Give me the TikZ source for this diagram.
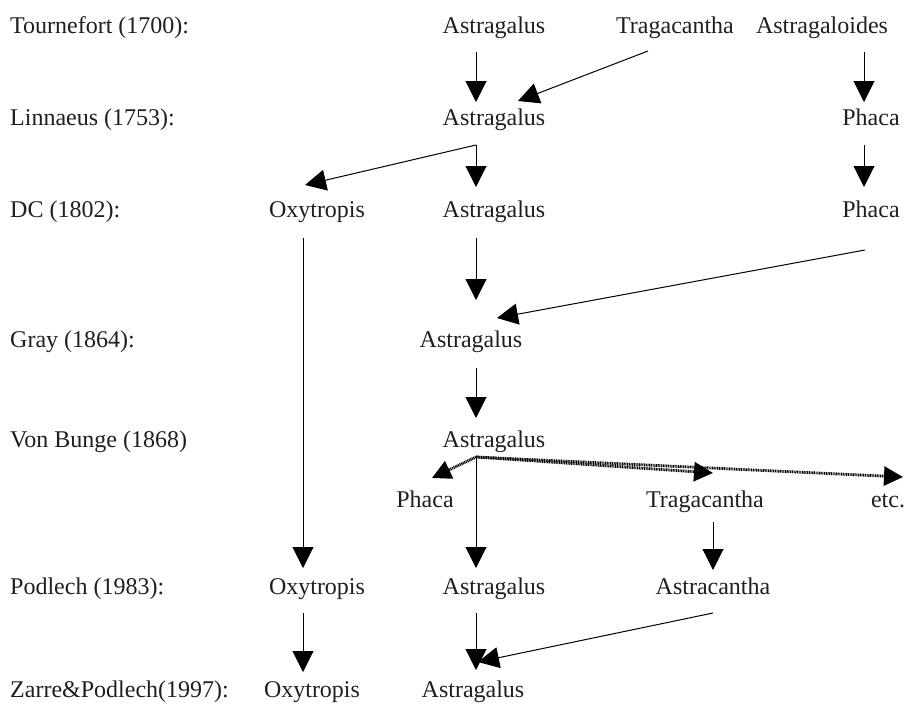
\documentclass[tikz,border=0pt]{standalone}
\usepackage{fontspec}
\setmainfont{Liberation Serif}
\usetikzlibrary{arrows.meta,calc}
\begin{document}
\begin{tikzpicture}[x=1pt,y=-1pt,
  lbl/.style={anchor=base,inner sep=0pt,text=black!88,font=\fontsize{24}{28}\selectfont},
  era/.style={lbl,anchor=base west},
  arr/.style={line width=1pt,-{Triangle[width=21pt,length=21pt]}},
  dotarr/.style={line width=2.8pt,dash pattern=on 1pt off 0.7pt,-{Triangle[width=19pt,length=19pt]}}]
\useasboundingbox (0,0) rectangle (906,707);
% era labels
\node[era] (e1) at (10,33) {Tournefort (1700):};
\node[era] (e2) at (10,125) {Linnaeus (1753):};
\node[era] (e3) at (10,217) {DC (1802):};
\node[era] (e4) at (10,347) {Gray (1864):};
\node[era] (e5) at (10,447) {Von Bunge (1868)};
\node[era] (e6) at (10,594) {Podlech (1983):};
\node[era] (e7) at (10,697) {Zarre\&Podlech(1997):};
% taxa
\node[lbl] (a1) at (494,33) {Astragalus};
\node[lbl] (tr1) at (675,33) {Tragacantha};
\node[lbl] (ag1) at (822,33) {Astragaloides};
\node[lbl] (a2) at (494,125) {Astragalus};
\node[lbl] (ph2) at (871,125) {Phaca};
\node[lbl] (ox3) at (317,217) {Oxytropis};
\node[lbl] (a3) at (494,217) {Astragalus};
\node[lbl] (ph3) at (871,217) {Phaca};
\node[lbl] (a4) at (471,347) {Astragalus};
\node[lbl] (a5) at (494,447) {Astragalus};
\node[lbl] (ph5) at (425,507) {Phaca};
\node[lbl] (tr5) at (705,507) {Tragacantha};
\node[lbl] (etc) at (888,507) {etc.};
\node[lbl] (ox6) at (317,594) {Oxytropis};
\node[lbl] (a6) at (494,594) {Astragalus};
\node[lbl] (as6) at (713,594) {Astracantha};
\node[lbl] (ox7) at (312,697) {Oxytropis};
\node[lbl] (a7) at (473,697) {Astragalus};
% connectors
\draw[arr] ($(a1.base)+(-18,19)$) -- ($(a2.base)+(-18,-23)$);
\draw[arr] ($(tr1.base)+(-27,18)$) -- ($(a2.base)+(24,-24)$);
\draw[arr] ($(ag1.base)+(42,19)$) -- ($(ph2.base)+(-7,-23)$);
\draw[arr] ($(a2.base)+(-18,20)$) -- ($(ox3.base)+(-12,-32)$);
\draw[arr] ($(a2.base)+(-18,20)$) -- ($(a3.base)+(-18,-30)$);
\draw[arr] ($(ph2.base)+(-7,20)$) -- ($(ph3.base)+(-7,-30)$);
\draw[arr] ($(ox3.base)+(-14,21)$) -- ($(ox6.base)+(-14,-26)$);
\draw[arr] ($(a3.base)+(-18,21)$) -- ($(a4.base)+(5,-47)$);
\draw[arr] ($(ph3.base)+(-6,33)$) -- ($(a4.base)+(26,-29)$);
\draw[arr] ($(a4.base)+(5,21)$) -- ($(a5.base)+(-18,-29)$);
\draw[dotarr] ($(a5.base)+(-18,10)$) -- ($(ph5.base)+(7,-29)$);
\draw[dotarr] ($(a5.base)+(-18,10)$) -- ($(tr5.base)+(8,-34)$);
\draw[dotarr] ($(a5.base)+(-18,10)$) -- ($(etc.base)+(15,-30)$);
\draw[arr] ($(a5.base)+(-18,10)$) -- ($(a6.base)+(-18,-26)$);
\draw[arr] ($(tr5.base)+(8,15)$) -- ($(as6.base)+(0,-24)$);
\draw[arr] ($(ox6.base)+(-14,19)$) -- ($(ox7.base)+(-9,-25)$);
\draw[arr] ($(a6.base)+(-18,19)$) -- ($(a7.base)+(3,-27)$);
\draw[arr] ($(as6.base)+(0,19)$) -- ($(a7.base)+(5,-35)$);
\end{tikzpicture}
\end{document}
